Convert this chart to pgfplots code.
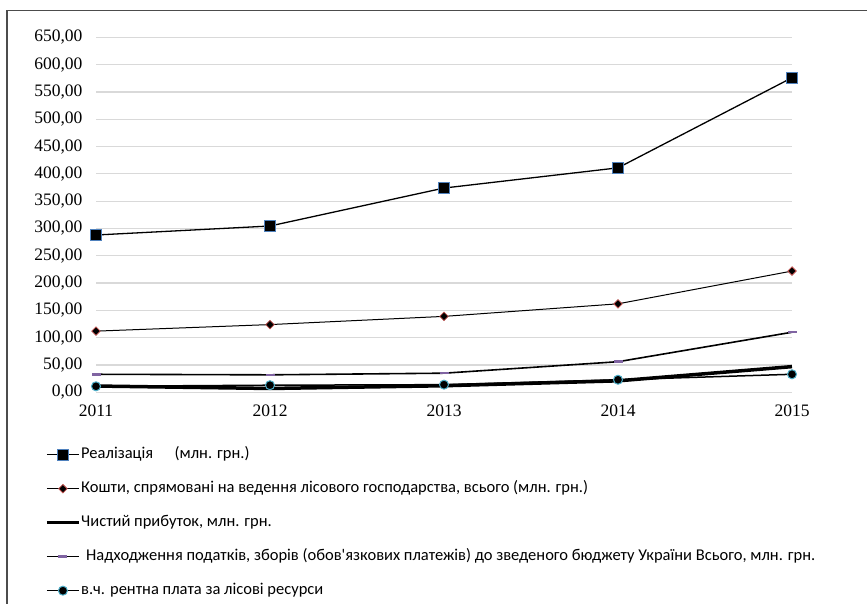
\documentclass[border=0pt]{standalone}
\usepackage{fontspec}
\setmainfont{Liberation Serif}
\newfontfamily\legfont{Carlito}
\usepackage{pgfplots}
\pgfplotsset{compat=1.18}
\definecolor{gridc}{HTML}{D9D9D9}
\definecolor{sqblue}{HTML}{4F81BD}
\definecolor{dmred}{HTML}{C0504D}
\definecolor{dshpurple}{HTML}{8064A2}
\definecolor{circcyan}{HTML}{4BACC6}
\begin{document}
\begin{tikzpicture}[x=1pt,y=1pt]
\useasboundingbox (0,0) rectangle (867,603);
\draw[color=black!70, line width=1.3pt] (7,-10) -- (7,592.3) -- (880,592.3);
\begin{axis}[
  at={(96pt,210.7pt)}, anchor=south west,
  scale only axis, width=696pt, height=355pt,
  xmin=2011, xmax=2015, ymin=0, ymax=650,
  xtick={2011,2012,2013,2014,2015},
  xticklabels={2011,2012,2013,2014,2015},
  ytick={0,50,...,650},
  axis line style={draw=none},
  major tick length=0pt,
  ymajorgrids, grid style={gridc, line width=1.2pt},
  tick label style={font=\fontsize{17.5}{20}\selectfont},
  xticklabel style={yshift=-9pt},
  yticklabel style={xshift=-10pt, /pgf/number format/.cd, fixed, fixed zerofill, precision=2, use comma, assume math mode=true},
  clip=false,
  legend cell align=left,
  legend image code/.code={\draw[mark repeat=2,mark phase=2,#1] plot coordinates {(0pt,0pt) (16pt,0pt) (32pt,0pt)};},
  legend style={at={(-0.0733,-0.154)}, anchor=north west, draw=none, fill=none, inner sep=0pt,
    font=\legfont\fontsize{16.5}{19}\selectfont, row sep=19pt,
    nodes={inner xsep=0.5pt, inner ysep=0pt, text height=11pt, text depth=4pt}},
]
\addplot[black, line width=1.3pt, mark=square*, mark size=5.5pt, mark options={draw=sqblue, fill=black, line width=1pt}]
  coordinates {(2011,288) (2012,304.5) (2013,374) (2014,411) (2015,576)};
\addlegendentry{Реалізація\hspace{1.3em}(млн. грн.)}
\addplot[black, line width=1pt, mark=square*, mark size=3pt, mark options={rotate=45, draw=dmred, fill=black, line width=0.8pt}]
  coordinates {(2011,112) (2012,124) (2013,139) (2014,162) (2015,222)};
\addlegendentry{Кошти, спрямовані на ведення лісового господарства, всього (млн. грн.)}
\addplot[black, line width=3.5pt]
  coordinates {(2011,11.5) (2012,7) (2013,12) (2014,21) (2015,47)};
\addlegendentry{Чистий прибуток, млн. грн.}
\addplot[black, line width=1.6pt, mark=-, mark size=4.5pt, mark options={draw=dshpurple, line width=2.5pt}]
  coordinates {(2011,33) (2012,32) (2013,35) (2014,56) (2015,110)};
\addlegendentry{\hspace{0.3em}Надходження податків, зборів (обов'язкових платежів) до зведеного бюджету України Всього, млн. грн.}
\addplot[black, line width=1.5pt, mark=*, mark size=4.5pt, mark options={draw=circcyan, fill=black, line width=1pt}]
  coordinates {(2011,11) (2012,13) (2013,14) (2014,23) (2015,33)};
\addlegendentry{в.ч. рентна плата за лісові ресурси}
\end{axis}
\end{tikzpicture}
\end{document}
